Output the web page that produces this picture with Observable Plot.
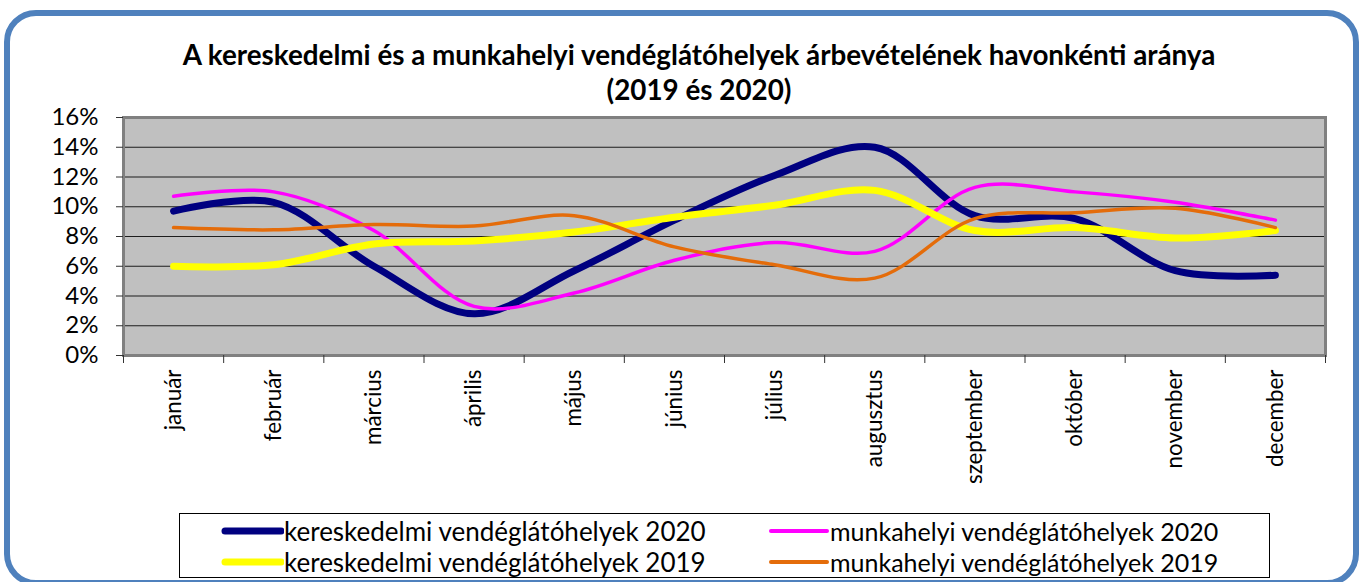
<!DOCTYPE html>
<html>
<head>
<meta charset="utf-8">
<script src="https://cdn.jsdelivr.net/npm/d3@7"></script>
<script src="https://cdn.jsdelivr.net/npm/@observablehq/plot@0.6"></script>
<style>
  html, body { margin: 0; padding: 0; background: #fff; overflow: hidden; }
  #wrap { position: relative; width: 1363px; height: 582px; font-family: Lato, "Open Sans", sans-serif; color: #000; }
  #border { position: absolute; left: 4px; top: 10px; width: 1355px; height: 576px; box-sizing: border-box;
            border: 6px solid #4F81BD; border-radius: 32px; }
  #title { position: absolute; left: 0; top: 37px; width: 1398px; text-align: center; font-weight: bold;
           font-size: 27.8px; line-height: 35px; }
  #chart { position: absolute; left: 0; top: 100px; }
  #legend { position: absolute; left: 179px; top: 513px; width: 1091px; height: 65px; box-sizing: border-box;
            border: 1px solid #000; background: #fff; }
  .item { position: absolute; display: flex; align-items: center; font-size: 26px; height: 30px; white-space: nowrap; }
  .item.col2 { font-size: 25px; }
  .item svg { display: block; margin-right: 0px; }
</style>
</head>
<body>
<div id="wrap">
  <div id="border"></div>
  <div id="title">A kereskedelmi és a munkahelyi vendéglátóhelyek árbevételének havonkénti aránya<br>(2019 és 2020)</div>
  <div id="chart"></div>
  <div id="legend"></div>
</div>
<script>
// ---- data ----
const months = ["január","február","március","április","május","június","július","augusztus","szeptember","október","november","december"];
const seriesNames = ["kereskedelmi vendéglátóhelyek 2020","munkahelyi vendéglátóhelyek 2020","kereskedelmi vendéglátóhelyek 2019","munkahelyi vendéglátóhelyek 2019"];
const keresk2020 = [9.7, 10.3, 6.0, 2.8, 5.7, 9.1, 12.1, 14.0, 9.4, 9.2, 5.7, 5.4];
const munka2020  = [10.7, 11.0, 8.4, 3.3, 4.2, 6.4, 7.6, 7.0, 11.3, 11.0, 10.3, 9.1];
const keresk2019 = [6.0, 6.1, 7.5, 7.7, 8.3, 9.3, 10.1, 11.1, 8.4, 8.6, 7.9, 8.4];
const munka2019  = [8.6, 8.45, 8.8, 8.7, 9.4, 7.3, 6.1, 5.2, 9.2, 9.6, 9.9, 8.6];
const yTicks = [0, 2, 4, 6, 8, 10, 12, 14, 16];

// ---- styling ----
const colors = ["#000080", "#FF00FF", "#FFFF00", "#E46C0A"];
const widths = [7, 3.5, 7, 3.5];
const seriesValues = [keresk2020, munka2020, keresk2019, munka2019];

const rows = [];
seriesValues.forEach((vals, si) => vals.forEach((v, i) => rows.push({series: seriesNames[si], month: i, value: v / 100})));

const boundaries = d3.range(13).map(i => i - 0.5);
const drawOrder = [0, 1, 2, 3];

const chart = Plot.plot({
  width: 1363,
  height: 400,
  marginTop: 17,
  marginBottom: 145,
  marginLeft: 123,
  marginRight: 38,
  style: {fontFamily: "Lato, 'Open Sans', sans-serif", fontSize: "22px", color: "#000", background: "transparent", overflow: "visible"},
  x: {domain: [-0.5, 11.5]},
  y: {domain: [0, 0.16]},
  marks: [
    Plot.frame({fill: "#C0C0C0", stroke: null}),
    Plot.gridY(yTicks.map(t => t / 100), {stroke: "#000", strokeOpacity: 0.85, strokeWidth: 1.2}),
    Plot.frame({stroke: "#808080", strokeWidth: 3}),
    Plot.axisY(yTicks.map(t => t / 100), {tickFormat: d3.format(".0%"), tickSize: 7, tickPadding: 18, fontSize: 24, label: null, stroke: "#333"}),
    Plot.axisX(boundaries, {tickFormat: () => "", tickSize: 8, label: null, stroke: "#333"}),
    Plot.axisX(d3.range(12), {tickFormat: i => months[i], tickSize: 0, tickPadding: 14, tickRotate: -90, fontSize: 22.4, label: null}),
    ...drawOrder.map(si => Plot.line(rows.filter(r => r.series === seriesNames[si]), {
      x: "month", y: "value", stroke: colors[si], strokeWidth: widths[si],
      curve: "catmull-rom", strokeLinecap: "round", strokeLinejoin: "round"
    }))
  ]
});
document.getElementById("chart").appendChild(chart);

// ---- legend ----
const legend = document.getElementById("legend");
const legendPos = [[41, 2], [587, 2], [41, 33], [587, 33]];
seriesNames.forEach((name, si) => {
  const item = document.createElement("div");
  item.className = "item" + (si % 2 === 1 ? " col2" : "");
  item.style.left = legendPos[si][0] + "px";
  item.style.top = legendPos[si][1] + "px";
  const sw = d3.create("svg").attr("width", 63).attr("height", 12);
  sw.append("line").attr("x1", 4).attr("x2", 60).attr("y1", 6).attr("y2", 6)
    .attr("stroke", colors[si]).attr("stroke-width", widths[si] === 7 ? 7 : 4).attr("stroke-linecap", "round");
  item.appendChild(sw.node());
  const span = document.createElement("span");
  span.textContent = name;
  item.appendChild(span);
  legend.appendChild(item);
});
</script>
</body>
</html>
